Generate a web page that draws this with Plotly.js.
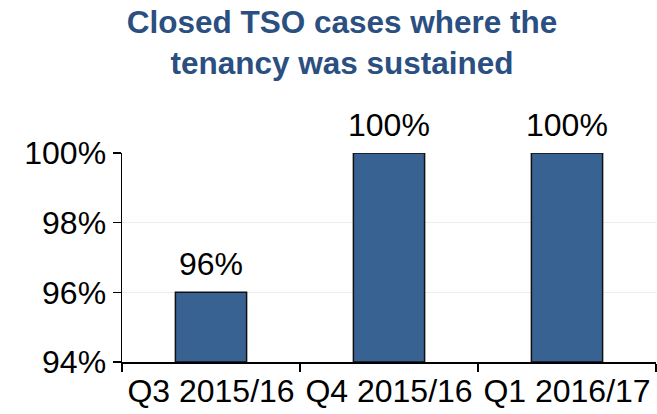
<!DOCTYPE html>
<html><head><meta charset="utf-8">
<script src="https://cdn.plot.ly/plotly-3.0.1.min.js"></script>
<style>html,body{margin:0;padding:0;background:#fff}#chart{width:657px;height:414px}</style>
</head><body><div id="chart"></div>
<script>
var categories = ["Q3 2015/16", "Q4 2015/16", "Q1 2016/17"];
var values = [96, 100, 100];
var yTicks = [94, 96, 98, 100];
var yBase = 94;

var FONT = "Liberation Sans, Arial, sans-serif";

var trace = {
  type: "bar",
  x: categories,
  y: values.map(function(v){ return v - yBase; }),
  marker: {color: "#386292", line: {color: "#111", width: 1.5}},
  width: 0.4,
  hoverinfo: "none"
};

var annotations = categories.map(function(c, i){
  return {
    x: c, y: values[i] - yBase, xref: "x", yref: "y",
    text: values[i] + "%", showarrow: false,
    yanchor: "bottom", xanchor: "center", yshift: 8,
    font: {family: FONT, size: 32, color: "#000"}
  };
});

var layout = {
  width: 657, height: 414,
  margin: {l: 122, r: 1, t: 153, b: 52},
  paper_bgcolor: "#fff", plot_bgcolor: "#fff",
  showlegend: false,
  annotations: annotations,
  title: {
    text: "<b>Closed TSO cases where the<br>tenancy was sustained</b>",
    font: {family: FONT, size: 31.5, color: "#2A4F80"},
    x: 0.412, xanchor: "center", xref: "paper",
    y: 0.92, yanchor: "top", yref: "container"
  },
  xaxis: {
    type: "category",
    showline: true, linecolor: "#000", linewidth: 1.5,
    ticks: "outside", tickson: "boundaries", ticklen: 8, tickcolor: "#000", tickwidth: 1.5,
    tickfont: {family: FONT, size: 32, color: "#000"},
    showgrid: false, zeroline: false
  },
  yaxis: {
    range: [0, 6],
    tickvals: yTicks.map(function(v){ return v - yBase; }),
    ticktext: yTicks.map(function(v){ return v + "%"; }),
    showline: true, linecolor: "#000", linewidth: 1.5,
    ticks: "outside", ticklen: 8, tickcolor: "#000", tickwidth: 1.5,
    tickfont: {family: FONT, size: 32, color: "#000"},
    showgrid: true, gridcolor: "#ececec", gridwidth: 1,
    zeroline: false
  }
};
Plotly.newPlot("chart", [trace], layout, {staticPlot: true, displayModeBar: false});
</script></body></html>
